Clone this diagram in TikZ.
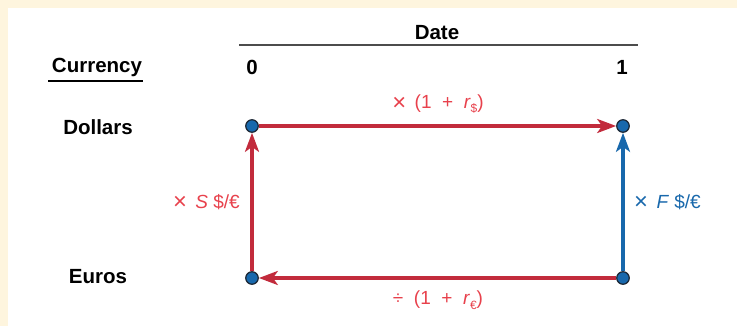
\documentclass[tikz,border=0pt]{standalone}
\usepackage{fontspec}
\setmainfont{Liberation Sans}
\usepackage{tikz}
\usetikzlibrary{arrows.meta, positioning}
\definecolor{cream}{HTML}{FEF5DE}
\definecolor{flowred}{HTML}{C22B3C}
\definecolor{textred}{HTML}{E8414C}
\definecolor{flowblue}{HTML}{1868AC}
\definecolor{dotedge}{HTML}{1B2633}
\newcommand{\bigtimes}{\raisebox{-0.1em}{\scalebox{1.25}{×}}\hspace{0.45em}}

\begin{document}
\begin{tikzpicture}[x=1pt, y=-1pt,
  every node/.style={font=\fontsize{19}{22}\selectfont},
  head/.style={font=\fontsize{20.5}{24}\selectfont\bfseries, inner sep=0pt},
  dot/.style={circle, fill=flowblue, draw=dotedge, line width=1.2pt, minimum size=12.5pt, inner sep=0pt},
  redflow/.style={draw=flowred, line width=3.2pt, -{Stealth[length=19pt, width=14pt, inset=5pt]}},
  blueflow/.style={draw=flowblue, line width=3.2pt, -{Stealth[length=19pt, width=14pt, inset=5pt]}},
  redlbl/.style={text=textred, inner sep=0pt},
  bluelbl/.style={text=flowblue, inner sep=0pt}]
  % frame
  \fill[cream] (0,0) rectangle (737,326);
  \fill[white] (8,8) rectangle (737,326);
  \useasboundingbox (0,0) rectangle (737,326);

  % headings
  \node[head] (date) at (437,33) {Date};
  \draw[black!70, line width=2.2pt] (239,45) -- (638,45);
  \node[head] (cur) at (97,67) {Currency};
  \draw[line width=1.5pt] (48,81) -- (143,81);
  \node[head] (t0) at (252,67) {0};
  \node[head] (t1) at (622,67) {1};
  \node[head] (usd) at (98,127) {Dollars};
  \node[head] (eur) at (98,277) {Euros};

  % points
  \node[dot] (d0) at (252,126) {};
  \node[dot] (d1) at (623,126) {};
  \node[dot] (e0) at (252,278) {};
  \node[dot] (e1) at (623,278) {};

  % flows
  \draw[redflow] (e0) -- (d0);
  \draw[redflow] (d0) -- (d1);
  \draw[redflow] (e1) -- (e0);
  \draw[blueflow] (e1) -- (d1);

  % labels
  \node[redlbl] (rusd) at (438,104) {\bigtimes(1\ \ +\ \ \textit{r}\raisebox{-0.45ex}{\fontsize{12}{13}\selectfont\$})};
  \node[redlbl] (reur) at (438,300) {÷\ \ (1\ \ +\ \ \textit{r}\raisebox{-0.45ex}{\fontsize{12}{13}\selectfont€})};
  \node[redlbl, anchor=east] (spot) at (240,202) {\bigtimes\textit{S} \$/€};
  \node[bluelbl, anchor=west] (fwd) at (634,202) {\bigtimes\textit{F} \$/€};
\end{tikzpicture}
\end{document}
